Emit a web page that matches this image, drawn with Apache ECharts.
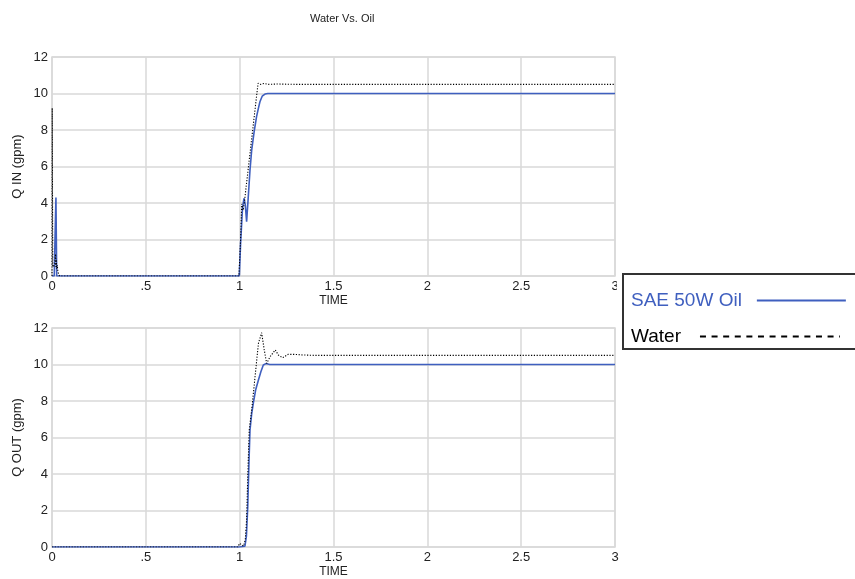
<!DOCTYPE html>
<html>
<head>
<meta charset="utf-8">
<script src="https://cdn.jsdelivr.net/npm/echarts@6/dist/echarts.min.js"></script>
<style>
  html, body { margin: 0; padding: 0; background: #fff; }
  #chart { width: 855px; height: 579px; }
</style>
</head>
<body>
<div id="chart"></div>
<script>
// Flow rate (gpm) over time (s) for SAE 50W oil and water.
const seriesNames = ['SAE 50W Oil', 'Water'];
const xTicks = [0, 0.5, 1, 1.5, 2, 2.5, 3];

// Q IN, oil
const tInOil = [0, 0.012, 0.016, 0.021, 0.025, 0.04, 0.5, 0.998, 1.005, 1.015, 1.023, 1.03, 1.037, 1.045,
  1.055, 1.064, 1.077, 1.09, 1.1, 1.108, 1.12, 1.135, 1.15, 1.2, 2, 3];
const qInOil = [0, 0, 2.0, 4.3, 0, 0, 0, 0, 1.8, 3.7, 4.26, 3.9, 2.98, 4.2,
  5.8, 6.9, 7.9, 8.73, 9.2, 9.55, 9.85, 9.97, 10.0, 10.0, 10.0, 10.0];

// Q IN, water
const tInWater = [0, 0.001, 0.004, 0.008, 0.015, 0.019, 0.021, 0.023, 0.025, 0.028, 0.032, 0.04, 0.5,
  0.996, 1.005, 1.011, 1.018, 1.024, 1.098, 1.11, 1.13, 1.15, 1.2, 1.3, 1.5, 2, 2.5, 3];
const qInWater = [0, 9.2, 0.5, 0.4, 0.6, 1.2, 0.5, 0.9, 0.4, 0.6, 0.2, 0, 0,
  0, 2.0, 3.95, 3.6, 3.95, 10.56, 10.5, 10.55, 10.5, 10.52, 10.5, 10.5, 10.5, 10.5, 10.5];

// Q OUT, oil
const tOutOil = [0, 0.5, 1.0, 1.028, 1.036, 1.043, 1.05, 1.055, 1.064, 1.073, 1.085, 1.1, 1.113,
  1.126, 1.14, 1.16, 1.2, 2, 3];
const qOutOil = [0, 0, 0, 0.05, 0.6, 2.2, 4.8, 6.4, 7.3, 7.9, 8.6, 9.15, 9.6,
  9.97, 10.05, 10.0, 10.0, 10.0, 10.0];

// Q OUT, water
const tOutWater = [0, 0.5, 0.99, 1.0, 1.01, 1.02, 1.03, 1.037, 1.043, 1.051, 1.064, 1.082, 1.1, 1.117,
  1.131, 1.144, 1.162, 1.19, 1.206, 1.229, 1.259, 1.3, 1.34, 1.4, 2, 3];
const qOutWater = [0, 0, 0, 0.2, 0.16, 0.05, 0.4, 1.5, 3.85, 6.41, 7.5, 9.33, 11.16, 11.74,
  10.8, 10.06, 10.43, 10.8, 10.52, 10.37, 10.56, 10.55, 10.52, 10.5, 10.5, 10.5];

const FONT = 'Liberation Sans, Arial, sans-serif';
const OIL_COLOR = '#3f5fbf';
const pairs = (t, v) => t.map((x, i) => [x, v[i]]);

const fmtTick = v => (v > 0 && v < 1) ? String(v).replace(/^0/, '') : String(v);

function makeXAxis(gridIndex) {
  return {
    type: 'value', gridIndex, min: xTicks[0], max: xTicks[xTicks.length - 1], interval: xTicks[1] - xTicks[0],
    name: 'TIME', nameLocation: 'middle', nameGap: 19, nameMoveOverlap: false,
    nameTextStyle: { fontFamily: FONT, fontSize: 12, color: '#222' },
    axisLine: { show: false }, axisTick: { show: false },
    axisLabel: { fontFamily: FONT, fontSize: 13, color: '#222', margin: 4, formatter: fmtTick, showMinLabel: true, showMaxLabel: true },
    splitLine: { show: true, lineStyle: { color: '#d9d9d9', width: 1.5 } }
  };
}
function makeYAxis(gridIndex, name) {
  return {
    type: 'value', gridIndex, min: 0, max: 12, interval: 2,
    name, nameLocation: 'middle', nameGap: 28, nameMoveOverlap: false,
    nameTextStyle: { fontFamily: FONT, fontSize: 13, color: '#222' },
    axisLine: { show: false }, axisTick: { show: false },
    axisLabel: { fontFamily: FONT, fontSize: 13, color: '#222', margin: 4 },
    splitLine: { show: true, lineStyle: { color: '#d9d9d9', width: 1.5 } }
  };
}

const oilLine = { color: OIL_COLOR, width: 1.6 };
const waterLine = { color: '#000', width: 1.1, type: [1.2, 1.6] };

const chart = echarts.init(document.getElementById('chart'), null, { renderer: 'canvas' });
chart.setOption({
  animation: false,
  backgroundColor: '#fff',
  title: {
    text: 'Water Vs. Oil', left: 305, top: 8,
    textStyle: { fontFamily: FONT, fontSize: 11, fontWeight: 'normal', color: '#222' }
  },
  grid: [
    { left: 52, top: 57, width: 563, height: 219, show: true, borderColor: '#d9d9d9', borderWidth: 1.5 },
    { left: 52, top: 328, width: 563, height: 219, show: true, borderColor: '#d9d9d9', borderWidth: 1.5 }
  ],
  xAxis: [makeXAxis(0), makeXAxis(1)],
  yAxis: [makeYAxis(0, 'Q IN (gpm)'), makeYAxis(1, 'Q OUT (gpm)')],
  graphic: [
    { type: 'rect', z: 90, shape: { x: 617, y: 262, width: 250, height: 92 }, style: { fill: '#fff' } },
    { type: 'rect', z: 91, shape: { x: 623, y: 274, width: 260, height: 75 },
      style: { fill: '#fff', stroke: '#333', lineWidth: 2 } }
  ],
  legend: [
    {
      z: 100, orient: 'vertical', left: 631, top: 291, padding: 0,
      itemWidth: 89, itemHeight: 18, align: 'right', selectedMode: false,
      itemStyle: { opacity: 0 },
      textStyle: { fontFamily: FONT, fontSize: 19, padding: [0, 10, 0, 0] },
      data: [{ name: seriesNames[0], textStyle: { color: OIL_COLOR }, itemStyle: { opacity: 0 }, lineStyle: { color: OIL_COLOR, width: 1.8, type: 'solid', opacity: 1 } }]
    },
    {
      z: 100, orient: 'vertical', left: 631, top: 327, padding: 0,
      itemWidth: 140, itemHeight: 18, align: 'right', selectedMode: false,
      itemStyle: { opacity: 0 },
      textStyle: { fontFamily: FONT, fontSize: 19, padding: [0, 14, 0, 0] },
      data: [{ name: seriesNames[1], textStyle: { color: '#000' }, itemStyle: { opacity: 0 }, lineStyle: { color: '#000', width: 2, type: [6, 5.6], opacity: 1 } }]
    }
  ],
  series: [
    { name: seriesNames[1], type: 'line', xAxisIndex: 0, yAxisIndex: 0, symbol: 'none', lineStyle: waterLine, itemStyle: { color: '#000' }, data: pairs(tInWater, qInWater), z: 3 },
    { name: seriesNames[0], type: 'line', xAxisIndex: 0, yAxisIndex: 0, symbol: 'none', lineStyle: oilLine, itemStyle: { color: OIL_COLOR }, data: pairs(tInOil, qInOil), z: 2 },
    { name: seriesNames[1], type: 'line', xAxisIndex: 1, yAxisIndex: 1, symbol: 'none', lineStyle: waterLine, itemStyle: { color: '#000' }, data: pairs(tOutWater, qOutWater), z: 3 },
    { name: seriesNames[0], type: 'line', xAxisIndex: 1, yAxisIndex: 1, symbol: 'none', lineStyle: oilLine, itemStyle: { color: OIL_COLOR }, data: pairs(tOutOil, qOutOil), z: 2 }
  ]
});
</script>
</body>
</html>
